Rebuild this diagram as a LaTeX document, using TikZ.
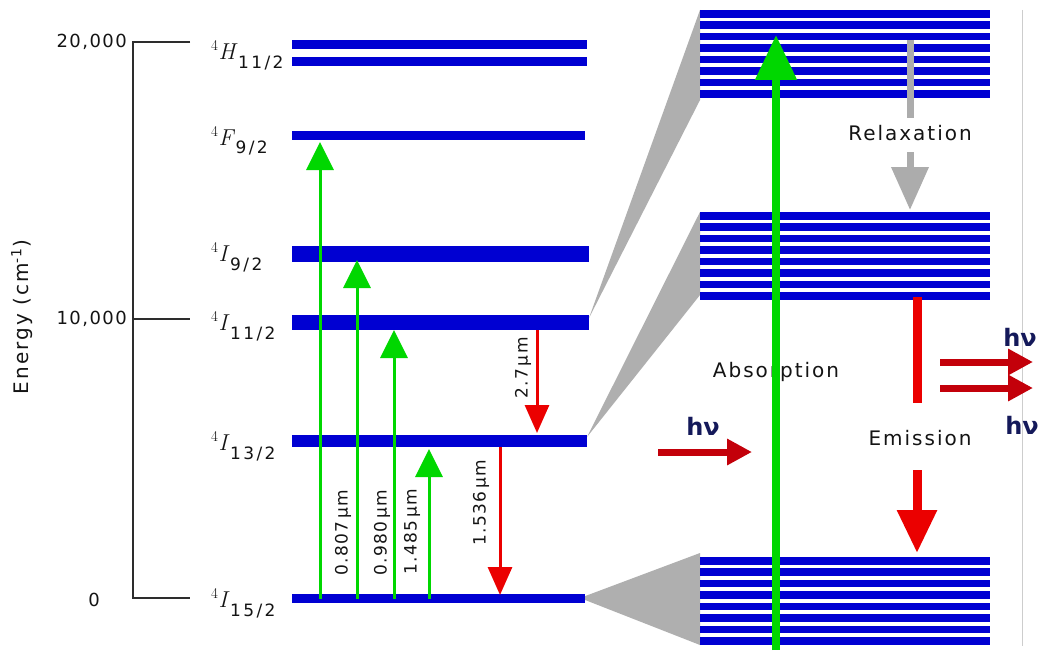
\documentclass[tikz,border=0pt]{standalone}
\usepackage{fontspec}
\usetikzlibrary{arrows.meta}
\newfontfamily\sansf{DejaVu Sans}
\definecolor{lvlblue}{RGB}{0,0,210}
\definecolor{pgreen}{RGB}{0,215,0}
\definecolor{ered}{RGB}{235,0,0}
\definecolor{dred}{RGB}{195,0,10}
\definecolor{navy}{RGB}{20,25,90}
\definecolor{wedgec}{RGB}{175,175,175}
\definecolor{relaxc}{RGB}{172,172,172}
\definecolor{axisc}{RGB}{45,45,45}
\definecolor{txt}{RGB}{20,20,20}
\definecolor{borderc}{RGB}{205,205,205}
\newcommand{\lvlab}[2]{\raisebox{9pt}{\fontsize{15}{15}\selectfont 4}\kern0.5pt{\fontsize{23}{23}\selectfont\textit{#1}}\kern0.5pt\raisebox{-9pt}{\sansf\fontsize{17}{17}\selectfont\addfontfeatures{LetterSpace=14}#2}}
\tikzset{
  levelbar/.style={fill=lvlblue, draw=none, inner sep=0pt, outer sep=0pt, minimum width=295pt},
  pump/.style={draw=pgreen, line width=3pt, -{Triangle[length=28pt,width=27pt]}},
  decay/.style={draw=ered, line width=3pt, -{Triangle[length=28pt,width=24pt]}},
  wavel/.style={rotate=90, text=txt, inner sep=0pt, font=\sansf\fontsize{17}{17}\selectfont\addfontfeatures{LetterSpace=8}},
  numlab/.style={text=txt, inner sep=0pt, font=\sansf\fontsize{18}{18}\selectfont\addfontfeatures{LetterSpace=8}},
  proclab/.style={text=txt, inner sep=0pt, font=\sansf\fontsize{20}{20}\selectfont\addfontfeatures{LetterSpace=10}},
  hnu/.style={text=navy, inner sep=0pt, font=\sansf\bfseries\fontsize{24}{24}\selectfont},
  photon/.style={draw=dred, line width=7pt, -{Triangle[length=25pt,width=25pt]}},
  axisline/.style={draw=axisc, line width=1.5pt},
  wedge/.style={fill=wedgec, draw=none},
  lvltext/.style={anchor=base west, inner sep=0pt, text=txt},
}
\begin{document}
\begin{tikzpicture}[x=1pt,y=-1pt]
\useasboundingbox (0,0) rectangle (1043,650);
\fill[white] (0,0) rectangle (1043,650);
% border line
\draw[borderc, line width=1pt] (1022,10) -- (1022,646);
% energy axis
\draw[axisline] (190,42) -- (133,42) -- (133,598) -- (190,598);
\draw[axisline] (133,319) -- (190,319);
\node[numlab, anchor=east] (t20) at (127,42) {20,000};
\node[numlab, anchor=east] (t10) at (127,319) {10,000};
\node[numlab] (t0) at (94,600) {0};
\node[rotate=90, text=txt, inner sep=0pt, font=\sansf\fontsize{20}{20}\selectfont\addfontfeatures{LetterSpace=10}] (elab) at (22,317) {Energy (cm\textsuperscript{-1})};
% level labels
\node[lvltext] (lH) at (211,60) {\lvlab{H}{11/2}};
\node[lvltext] (lF) at (211,145) {\lvlab{F}{9/2}};
\node[lvltext] (lI9) at (211,261) {\lvlab{I}{9/2}};
\node[lvltext] (lI11) at (211,330) {\lvlab{I}{11/2}};
\node[lvltext] (lI13) at (211,450) {\lvlab{I}{13/2}};
\node[lvltext] (lI15) at (211,607) {\lvlab{I}{15/2}};
% wedges
\fill[wedge] (589,318) -- (700,10) -- (700,100) -- cycle;
\fill[wedge] (587,437) -- (700,212) -- (700,295) -- cycle;
\fill[wedge] (580,598) -- (700,553) -- (700,645) -- cycle;
% levels
\node[levelbar, minimum height=9pt] (H1) at (439.5,44.5) {};
\node[levelbar, minimum height=9pt] (H2) at (439.5,61.5) {};
\node[levelbar, minimum height=9pt, minimum width=293pt] (F9) at (438.5,135.5) {};
\node[levelbar, minimum height=16pt, minimum width=297pt] (I9) at (440.5,254) {};
\node[levelbar, minimum height=15pt, minimum width=297pt] (I11) at (440.5,322.5) {};
\node[levelbar, minimum height=12pt] (I13) at (439.5,441) {};
\node[levelbar, minimum height=9pt, minimum width=293pt] (I15) at (438.5,598.5) {};
% stacks
\foreach \s in {10,212,557}{
  \foreach \k in {0,...,7}{
    \fill[lvlblue] (700,{\s+11.43*\k}) rectangle ++(290,7.6);
  }
}
% pump arrows
\coordinate (p1) at (320,142);
\coordinate (p2) at (357,260);
\coordinate (p3) at (394,330);
\coordinate (p4) at (429,449);
\draw[pump] (p1 |- I15.center) -- (p1);
\draw[pump] (p2 |- I15.center) -- (p2);
\draw[pump] (p3 |- I15.center) -- (p3);
\draw[pump] (p4 |- I15.center) -- (p4);
\node[wavel] (w1) at (343,533) {0.807\,µm};
\node[wavel] (w2) at (382,533) {0.980\,µm};
\node[wavel] (w3) at (412,532) {1.485\,µm};
% decay arrows
\coordinate (d1) at (537,433);
\coordinate (d2) at (500,595);
\draw[decay] (d1 |- I11.south) -- (d1);
\draw[decay] (d2 |- I13.south) -- (d2);
\node[wavel] (w4) at (523,368) {2.7\,µm};
\node[wavel] (w5) at (481,503) {1.536\,µm};
% right part texts
\node[proclab] (abs) at (776,372) {Absorption};
\node[proclab] (rel) at (910,133) {Relaxation};
\node[proclab] (emi) at (920,438) {Emission};
% big absorption arrow
\coordinate (gtop) at (776,35);
\coordinate (gbot) at (776,650);
\draw[draw=pgreen, line width=8pt, -{Triangle[length=45pt,width=40pt]}] (gbot) -- (gtop);
% relaxation arrow
\coordinate (r0) at (910,40);
\coordinate (r0b) at (910,118);
\coordinate (r1a) at (910,152);
\coordinate (r1) at (910,210);
\draw[draw=relaxc, line width=7pt] (r0) -- (r0b);
\draw[draw=relaxc, line width=7pt, -{Triangle[length=43pt,width=36pt]}] (r1a) -- (r1);
% emission arrow
\coordinate (e0) at (917,297);
\coordinate (e0b) at (917,403);
\coordinate (e1a) at (917,470);
\coordinate (e1) at (917,553);
\draw[draw=ered, line width=9pt] (e0) -- (e0b);
\draw[draw=ered, line width=9pt, -{Triangle[length=43pt,width=38pt]}] (e1a) -- (e1);
% photons
\node[hnu] (hin) at (703,426) {hν};
\node[hnu] (hout1) at (1020,337) {hν};
\node[hnu] (hout2) at (1022,425) {hν};
\coordinate (pi0) at (658,452);
\coordinate (pi1) at (752,452);
\coordinate (po0) at (940,362);
\coordinate (po1) at (1033,362);
\coordinate (po2) at (940,388);
\coordinate (po3) at (1033,388);
\draw[photon] (pi0) -- (pi1);
\draw[photon] (po0) -- (po1);
\draw[photon] (po2) -- (po3);
\end{tikzpicture}
\end{document}
